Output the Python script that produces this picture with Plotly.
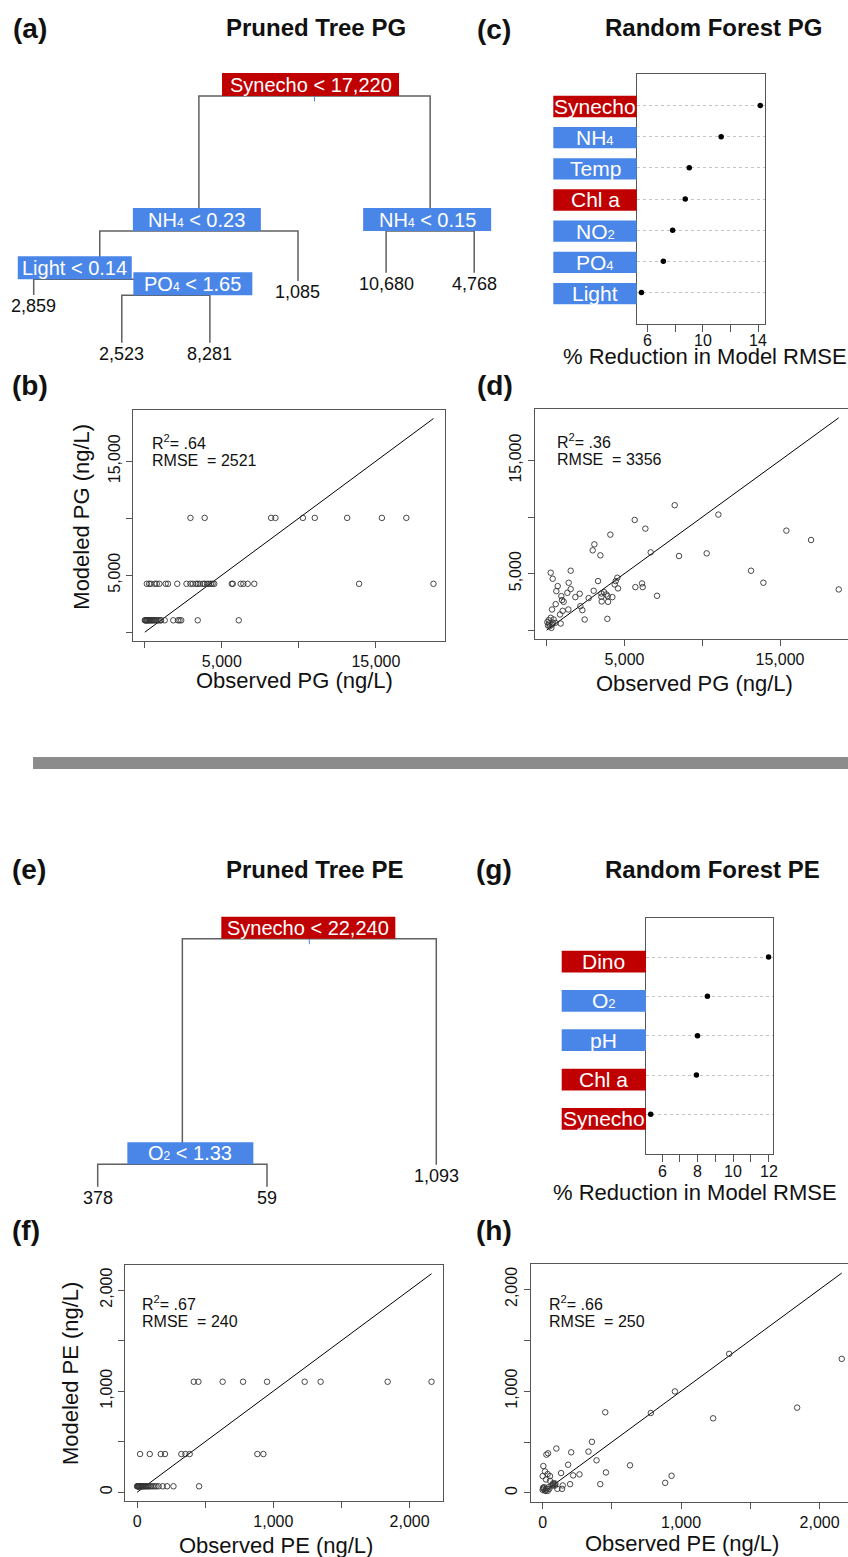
import plotly.graph_objects as go

W, H = 848, 1557
FONT = "Liberation Sans, Arial, Helvetica, sans-serif"
RED = "#c00000"
BLUE = "#4a86e8"
FRAME = "#555555"
BRANCH = "#606060"
INK = "#111111"
GROUP_COLOR = {"bio": RED, "env": BLUE}


def sub(s, px=12):
    # small baseline-aligned index, as in chemical formulas
    return f'<span style="font-size:{px}px">{s}</span>'


# ---------------- data ----------------
# Pruned regression tree, PG. Splits reference children as "s<i>" (split) or "l<i>" (leaf).
pg_split_labels = ["Synecho < 17,220", f"NH{sub(4)} < 0.23", f"NH{sub(4)} < 0.15",
                   "Light < 0.14", f"PO{sub(4)} < 1.65"]
pg_split_group = ["bio", "env", "env", "env", "env"]
pg_leaf_values = [2859, 2523, 8281, 1085, 10680, 4768]
pg_children = [("s1", "s2"), ("s3", "l3"), ("l4", "l5"), ("l0", "s4"), ("l1", "l2")]

# Pruned regression tree, PE
pe_split_labels = ["Synecho < 22,240", f"O{sub(2)} < 1.33"]
pe_split_group = ["bio", "env"]
pe_leaf_values = [378, 59, 1093]
pe_children = [("s1", "l2"), ("l0", "l1")]

# Random forest variable importance (% reduction in model RMSE)
rf_pg_vars = ["Synecho", f"NH{sub(4, 13)}", "Temp", "Chl a", f"NO{sub(2, 13)}", f"PO{sub(4, 13)}", "Light"]
rf_pg_group = ["bio", "env", "env", "bio", "env", "env", "env"]
rf_pg_importance = [14.14, 11.32, 9.02, 8.73, 7.82, 7.15, 5.57]

rf_pe_vars = ["Dino", f"O{sub(2, 13)}", "pH", "Chl a", "Synecho"]
rf_pe_group = ["bio", "env", "env", "bio", "bio"]
rf_pe_importance = [11.99, 8.55, 7.99, 7.93, 5.36]

# Observed vs modeled PG, pruned tree (ng/L)
pg_tree_obs = [0, 30, 70, 110, 150, 190, 240, 290, 340, 400, 460, 520, 590, 660, 740, 820, 900,
               1000, 1053, 1288, 1845, 2146, 2253, 2360, 3433, 6094,
               129, 279, 386, 644, 773, 944, 1352, 1502, 2103, 2704, 2961, 3112, 3326, 3433, 3562,
               3777, 3884, 4034, 4163, 4292, 4399, 4506, 5644, 5708, 6223, 6395, 6674, 7103, 13906, 18734,
               2961, 3884, 8197, 8476, 10258, 11030, 13133, 15386, 16974]
pg_tree_mod = [1040, 1040, 1040, 1040, 1040, 1040, 1040, 1040, 1040, 1040, 1040, 1040, 1040, 1040,
               1040, 1040, 1040, 1040, 1040, 1040, 1040, 1040, 1040, 1040, 1040, 1040,
               4240, 4240, 4240, 4240, 4240, 4240, 4240, 4240, 4240, 4240, 4240, 4240, 4240, 4240, 4240,
               4240, 4240, 4240, 4240, 4240, 4240, 4240, 4240, 4240, 4240, 4240, 4240, 4240, 4240, 4240,
               10020, 10020, 10020, 10020, 10020, 10020, 10020, 10020, 10020]
pg_tree_r2, pg_tree_rmse = ".64", 2521

# Observed vs modeled PG, random forest (ng/L)
pg_rf_obs = [8230, 11037, 5658, 6344, 4093, 15409, 16995, 3065, 2958, 3451, 6687, 8508, 10287, 13138,
             13931, 18774, 257, 386, 1543, 707, 1414, 1543, 621, 1329, 2122, 1843, 943, 579, 986, 1093,
             343, 1029, 1393, 857, 2700, 3022, 3301, 3515, 3687, 3837, 3515, 3922, 3537, 3944, 4222,
             2165, 2293, 2443, 3901, 4436, 4543, 4586, 4372, 5701, 6130, 6173, 7094,
             43, 129, 257, 343, 193, 86, 407, 300, 450, 900, 557, 150]
pg_rf_mod = [11046, 10219, 9746, 8978, 8447, 8801, 7974, 7590, 7059, 6616, 6882, 6557, 6793, 5257,
             4194, 3603, 5080, 4548, 5257, 3898, 4194, 3633, 3455, 3308, 3219, 2924, 3012, 2304, 2658, 2510,
             1831, 1713, 1831, 1388, 2835, 3485, 4342, 3249, 3367, 3160, 2953, 3012, 2540, 2510, 2924,
             2126, 1772, 945, 1004, 4342, 4637, 3692, 4046, 3810, 4135, 3810, 3042,
             709, 886, 1093, 502, 354, 413, 650, 207, 945, 591, 650, 591]
pg_rf_r2, pg_rf_rmse = ".36", 3356

# Observed vs modeled PE, pruned tree (ng/L)
pe_tree_obs = [416, 450, 628, 778, 954, 1230, 1347, 1839, 2161,
               22, 93, 174, 205, 325, 355, 386, 883, 927,
               0, 3, 6, 9, 12, 15, 18, 22, 26, 30, 35, 40, 46, 52, 58, 66, 74, 82, 92, 102,
               115, 128, 142, 158, 188, 220, 267, 455]
pe_tree_mod = [1093, 1093, 1093, 1093, 1093, 1093, 1093, 1093, 1093,
               378, 378, 378, 378, 378, 378, 378, 378, 378,
               59, 59, 59, 59, 59, 59, 59, 59, 59, 59, 59, 59, 59, 59, 59, 59, 59, 59, 59, 59,
               59, 59, 59, 59, 59, 59, 59, 59]
pe_tree_r2, pe_tree_rmse = ".67", 240

# Observed vs modeled PE, random forest (ng/L)
pe_rf_obs = [1347, 2160, 955, 781, 1838, 1231, 452, 356, 99, 27, 39, 206, 331, 389, 631, 184, 5,
             457, 931, 885, 416, 266, 220, 133, 198, 145, 140, 106, 0, 17, 36, 53, 24, 53, 77, 92,
             77, 5, 0, 17, 29, 10, 41, 65, 22, 3, 36, 48, 77, 90]
pe_rf_mod = [1366, 1317, 997, 785, 838, 733, 792, 502, 436, 376, 389, 399, 406, 320, 271, 277, 264,
             201, 168, 99, 86, 182, 172, 195, 86, 73, 40, 40, 165, 211, 185, 165, 132, 119, 96, 92,
             73, 40, 30, 23, 40, 56, 56, 73, 20, 50, 20, 40, 86, 73]
pe_rf_r2, pe_rf_rmse = ".66", 250

# axis ticks: labelled and unlabelled positions
pg_major, pg_minor = [5000, 15000], [0, 10000]
pe_major, pe_minor = [0, 1000, 2000], [500, 1500]
rf_pg_major, rf_pg_minor = [6, 10, 14], [8, 12]
rf_pe_major, rf_pe_minor = [6, 8, 10, 12], [7, 9, 11]


# ---------------- layout helpers ----------------
def xp(px):
    return px / W


def yp(py):
    return 1 - py / H


def ax_key(n, a):
    return f"{a}axis" if n == 1 else f"{a}axis{n}"


def ref(n, a):
    return a if n == 1 else f"{a}{n}"


fig = go.Figure()
layout = dict(width=W, height=H, autosize=False, margin=dict(l=0, r=0, t=0, b=0, pad=0),
              paper_bgcolor="white", plot_bgcolor="white", showlegend=False,
              font=dict(family=FONT, color=INK))
shapes, annotations = [], []


def text(x, y, s, size, **kw):
    d = dict(x=xp(x), y=yp(y), xref="paper", yref="paper", text=s, showarrow=False,
             font=dict(family=FONT, size=size, color=kw.pop("color", INK)),
             xanchor=kw.pop("xanchor", "center"), yanchor=kw.pop("yanchor", "middle"))
    d.update(kw)
    annotations.append(d)


def fmt(v):
    return f"{v:,}"


# ---------------- trees ----------------
def node_x(children, n_leaves):
    leaf_x = list(range(n_leaves))
    split_x = [None] * len(children)

    def xof(r):
        i = int(r[1:])
        if r[0] == "l":
            return leaf_x[i]
        if split_x[i] is None:
            a, b = children[i]
            split_x[i] = (xof(a) + xof(b)) / 2
        return split_x[i]

    for i in range(len(children)):
        xof(f"s{i}")
    return leaf_x, split_x


def draw_tree(n, labels, groups, leaves, children, split_depth, leaf_depth,
              label_shift, label_width, label_h, x_dom_px, x_range, y_dom_px, y_range):
    leaf_x, split_x = node_x(children, len(leaves))

    def pos(r):
        i = int(r[1:])
        return (leaf_x[i], leaf_depth[i]) if r[0] == "l" else (split_x[i], split_depth[i])

    xs, ys = [], []
    for i, (a, b) in enumerate(children):
        (xa, da), (xb, db) = pos(a), pos(b)
        d = split_depth[i]
        xs += [xa, xa, xb, xb, None]
        ys += [da, d, d, db, None]
    fig.add_trace(go.Scatter(x=xs, y=ys, mode="lines", xaxis=ref(n, "x"), yaxis=ref(n, "y"),
                             line=dict(color=BRANCH, width=1.5), hoverinfo="skip"))
    # small stub under the root split
    fig.add_trace(go.Scatter(x=[split_x[0], split_x[0]], y=[split_depth[0], split_depth[0] + 0.55],
                             mode="lines", xaxis=ref(n, "x"), yaxis=ref(n, "y"),
                             line=dict(color=BLUE, width=1), hoverinfo="skip"))
    for i, lab in enumerate(labels):
        w = label_width[i]
        shapes.append(dict(type="rect", xref=ref(n, "x"), yref=ref(n, "y"),
                           xsizemode="pixel", ysizemode="pixel",
                           xanchor=split_x[i], yanchor=split_depth[i],
                           x0=label_shift[i] - w / 2, x1=label_shift[i] + w / 2, y0=0, y1=label_h,
                           fillcolor=GROUP_COLOR[groups[i]], line=dict(width=0), layer="above"))
        annotations.append(dict(x=split_x[i], y=split_depth[i], xref=ref(n, "x"), yref=ref(n, "y"),
                                text=lab, showarrow=False, xshift=label_shift[i], yshift=label_h / 2,
                                xanchor="center", yanchor="middle",
                                font=dict(family=FONT, size=20, color="white")))
    for i, v in enumerate(leaves):
        annotations.append(dict(x=leaf_x[i], y=leaf_depth[i], xref=ref(n, "x"), yref=ref(n, "y"),
                                text=fmt(v), showarrow=False, yshift=-11,
                                xanchor="center", yanchor="middle",
                                font=dict(family=FONT, size=18, color=INK)))
    hidden = dict(visible=False, showgrid=False, zeroline=False, fixedrange=True)
    layout[ax_key(n, "x")] = dict(domain=[xp(x_dom_px[0]), xp(x_dom_px[1])], range=x_range,
                                  anchor=ref(n, "y"), **hidden)
    layout[ax_key(n, "y")] = dict(domain=[yp(y_dom_px[1]), yp(y_dom_px[0])], range=y_range,
                                  anchor=ref(n, "x"), **hidden)


# node depths / label placement (layout only)
draw_tree(1, pg_split_labels, pg_split_group, pg_leaf_values, pg_children,
          split_depth=[0, 13.5, 13.5, 18.33, 19.93],
          leaf_depth=[19.9, 24.67, 24.67, 18.5, 17.67, 17.67],
          label_shift=[-4, -2, -3, -25, 27], label_width=[177, 128, 128, 114, 119], label_h=23,
          x_dom_px=(0, 500), x_range=[-0.3825, 5.293], y_dom_px=(60, 370), y_range=[27.4, -3.6])

draw_tree(5, pe_split_labels, pe_split_group, pe_leaf_values, pe_children,
          split_depth=[0, 22.56], leaf_depth=[24.8, 24.8, 22.6],
          label_shift=[-1, 8], label_width=[174, 126], label_h=22,
          x_dom_px=(0, 500), x_range=[-0.5771, 2.3763], y_dom_px=(880, 1220), y_range=[28.13, -5.87])


# ---------------- random forest dot charts ----------------
def draw_dots(n, names, groups, vals, x_dom_px, y_dom_px, major, minor,
              lab_x_px, lab_h, lab_off, tick_label_y):
    k = len(vals)
    cats = [k - i for i in range(k)]
    fig.add_trace(go.Scatter(x=vals, y=cats, mode="markers", xaxis=ref(n, "x"), yaxis=ref(n, "y"),
                             marker=dict(color="black", size=5.5), hoverinfo="skip"))
    span = max(vals) - min(vals)
    xr = [min(vals) - 0.04 * span, max(vals) + 0.04 * span]
    axline = dict(showline=True, linecolor=FRAME, linewidth=1.3, mirror=True, zeroline=False,
                  fixedrange=True)
    layout[ax_key(n, "x")] = dict(domain=[xp(x_dom_px[0]), xp(x_dom_px[1])], range=xr,
                                  anchor=ref(n, "y"), showgrid=False, ticks="outside", ticklen=7,
                                  tickwidth=1.2, tickcolor=FRAME, tickmode="array",
                                  tickvals=sorted(major + minor), showticklabels=False, **axline)
    layout[ax_key(n, "y")] = dict(domain=[yp(y_dom_px[1]), yp(y_dom_px[0])], range=[0, k + 1],
                                  anchor=ref(n, "x"), showgrid=True, gridcolor="#c4c4c4",
                                  griddash="dot", gridwidth=1, tickmode="array", tickvals=cats,
                                  showticklabels=False, ticks="", **axline)
    # tick labels placed on the value axis, sitting tight under the ticks
    for v in major:
        annotations.append(dict(x=v, y=yp(tick_label_y), xref=ref(n, "x"), yref="paper",
                                text=str(v), showarrow=False, xanchor="center", yanchor="middle",
                                font=dict(family=FONT, size=16, color=INK)))
    for name, g, c in zip(names, groups, cats):
        shapes.append(dict(type="rect", xref="paper", yref=ref(n, "y"), ysizemode="pixel",
                           yanchor=c, x0=xp(lab_x_px[0]), x1=xp(lab_x_px[1]),
                           y0=lab_off - lab_h / 2, y1=lab_off + lab_h / 2,
                           fillcolor=GROUP_COLOR[g], line=dict(width=0), layer="above"))
        annotations.append(dict(x=xp((lab_x_px[0] + lab_x_px[1]) / 2), y=c, xref="paper",
                                yref=ref(n, "y"), text=name, showarrow=False, yshift=lab_off,
                                xanchor="center", yanchor="middle",
                                font=dict(family=FONT, size=21, color="white")))


draw_dots(2, rf_pg_vars, rf_pg_group, rf_pg_importance, (636.7, 765), (74.3, 323.7),
          rf_pg_major, rf_pg_minor, (553.3, 636.7), 21.3, -1, 340)
draw_dots(6, rf_pe_vars, rf_pe_group, rf_pe_importance, (646, 773.3), (917.7, 1153.7),
          rf_pe_major, rf_pe_minor, (561.7, 646), 21.7, -4.5, 1171.7)


# ---------------- observed vs modeled scatter ----------------
def draw_scatter(n, obs, mod, x_px, y_px, major, minor):
    top = max(obs)
    lim = [-0.04 * top, 1.04 * top]
    fig.add_trace(go.Scatter(x=[0, top], y=[0, top], mode="lines", xaxis=ref(n, "x"),
                             yaxis=ref(n, "y"), line=dict(color="black", width=1), hoverinfo="skip"))
    fig.add_trace(go.Scatter(x=obs, y=mod, mode="markers", xaxis=ref(n, "x"), yaxis=ref(n, "y"),
                             marker=dict(symbol="circle-open", size=5.5, color="#333333",
                                         line=dict(width=0.9)), hoverinfo="skip"))
    x0, x1 = x_px
    xr = list(lim)
    clipped = x1 > W
    if clipped:
        frac = (W - x0) / (x1 - x0)
        xr = [lim[0], lim[0] + frac * (lim[1] - lim[0])]
        x1 = W
    common = dict(showline=True, linecolor=FRAME, linewidth=1.3, zeroline=False, showgrid=False,
                  ticks="outside", ticklen=6, tickwidth=1.2, tickcolor=FRAME, tickmode="array",
                  tickvals=major, ticktext=[fmt(v) for v in major],
                  tickfont=dict(family=FONT, size=16, color=INK), fixedrange=True,
                  minor=dict(tickmode="array", tickvals=minor, ticks="outside", ticklen=6,
                             tickwidth=1.2, tickcolor=FRAME, showgrid=False))
    layout[ax_key(n, "x")] = dict(domain=[xp(x0), xp(x1)], range=xr, anchor=ref(n, "y"),
                                  mirror=True, **common)
    layout[ax_key(n, "y")] = dict(domain=[yp(y_px[1]), yp(y_px[0])], range=lim, anchor=ref(n, "x"),
                                  mirror=not clipped, tickangle=-90, **common)


draw_scatter(3, pg_tree_obs, pg_tree_mod, (133.3, 445), (410, 640.7), pg_major, pg_minor)
draw_scatter(4, pg_rf_obs, pg_rf_mod, (535, 850.4), (409.3, 638.7), pg_major, pg_minor)
draw_scatter(7, pe_tree_obs, pe_tree_mod, (125.3, 443.3), (1265, 1501), pe_major, pe_minor)
draw_scatter(8, pe_rf_obs, pe_rf_mod, (530.7, 853.7), (1264.3, 1501.7), pe_major, pe_minor)

# fit statistics
for x, y, r2, rmse in [(150, 441.7, pg_tree_r2, pg_tree_rmse), (555, 441, pg_rf_r2, pg_rf_rmse),
                       (140, 1302.7, pe_tree_r2, pe_tree_rmse), (546.7, 1303.3, pe_rf_r2, pe_rf_rmse)]:
    text(x, y, f"R<sup>2</sup>= {r2}", 16, xanchor="left")
    text(x, y + 18.3, f"RMSE\u00a0 = {rmse}", 16, xanchor="left")

# axis titles
text(294.7, 680, "Observed PG (ng/L)", 22)
text(694.2, 683.3, "Observed PG (ng/L)", 22)
text(275.5, 1545, "Observed PE (ng/L)", 22)
text(681.7, 1543.3, "Observed PE (ng/L)", 22)
text(82, 516.7, "Modeled PG (ng/L)", 22, textangle=-90)
text(70, 1374, "Modeled PE (ng/L)", 22, textangle=-90)
text(704.5, 357, "% Reduction in Model RMSE", 22)
text(695, 1192.5, "% Reduction in Model RMSE", 22)

# panel letters and titles
for x, y, s in [(30, 29, "(a)"), (494, 30, "(c)"), (30, 385, "(b)"), (495, 385, "(d)"),
                (29, 869, "(e)"), (494, 869, "(g)"), (26, 1230, "(f)"), (494, 1230, "(h)")]:
    text(x, y, f"<b>{s}</b>", 28)
for x, y, s in [(315.7, 27.5, "Pruned Tree PG"), (713.7, 27.5, "Random Forest PG"),
                (314, 869, "Pruned Tree PE"), (712.5, 869, "Random Forest PE")]:
    text(x, y, f"<b>{s}</b>", 24)

# separator between the PG and PE halves
shapes.append(dict(type="rect", xref="paper", yref="paper", x0=xp(33), x1=1.0,
                   y0=yp(769), y1=yp(757), fillcolor="#8c8c8c", line=dict(width=0), layer="below"))

layout["shapes"] = shapes
layout["annotations"] = annotations
fig.update_layout(**layout)
fig.write_html("out.html")
